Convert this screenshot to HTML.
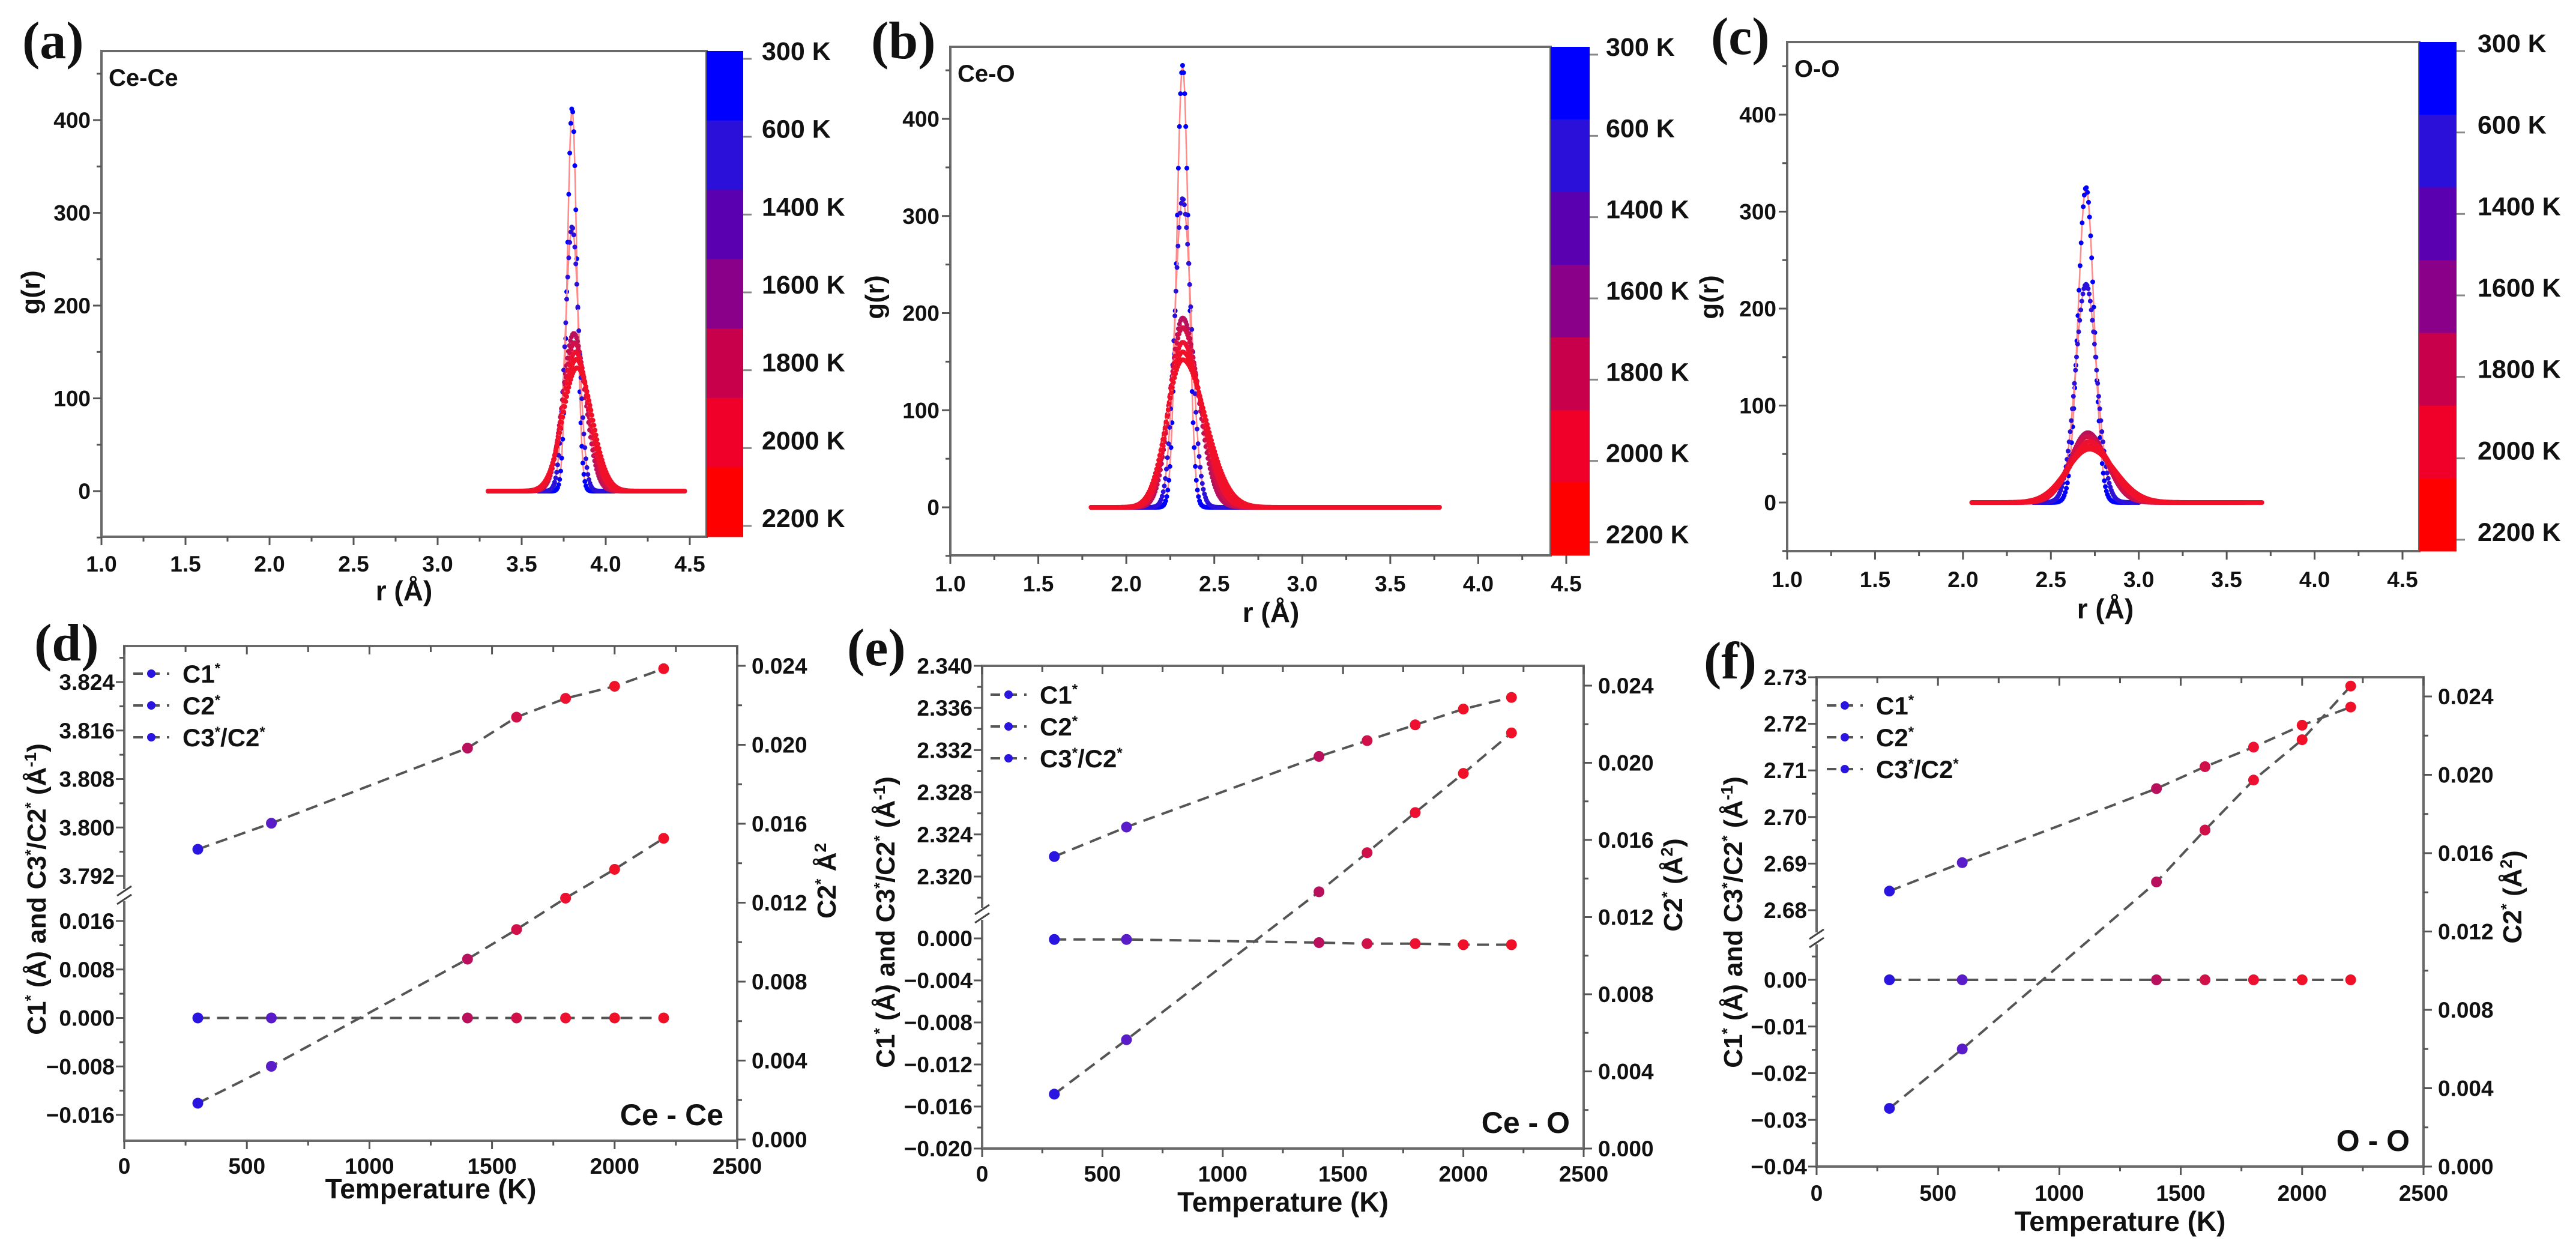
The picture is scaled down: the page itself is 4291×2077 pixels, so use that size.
<!DOCTYPE html>
<html><head><meta charset="utf-8">
<style>
html,body{margin:0;padding:0;background:#fff;}
svg{display:block;font-family:"Liberation Sans",Arial,sans-serif;}
.tk{font-weight:bold;fill:#111;}
</style></head>
<body>
<svg id="fig" xmlns="http://www.w3.org/2000/svg" width="4291" height="2077" viewBox="0 0 4291 2077">
<rect x="0" y="0" width="4291" height="2077" fill="#fff"/>
</svg>
<script>
// ---------- data ----------
const TEMPS = [300, 600, 1400, 1600, 1800, 2000, 2200];
const CB_LABELS = ['300 K', '600 K', '1400 K', '1600 K', '1800 K', '2000 K', '2200 K'];
const CB_COLORS = ['#0000ff', '#2a10d8', '#5a00b0', '#8a0088', '#c8004c', '#f00028', '#ff0000'];
const PT_COLORS = ['#2a14e0', '#5a1cc8', '#b8105c', '#d01048', '#ee1030', '#f01028', '#f01028'];

// g(r) peak parameters
const A_peak = [413, 285, 170, 160, 150, 142, 133];
const A_center = [3.80, 3.80, 3.81, 3.815, 3.82, 3.825, 3.83];
const A_sigma = [0.028, 0.04, 0.065, 0.07, 0.075, 0.08, 0.085];
const A_skew = [1, 1, 1.05, 1.05, 1.05, 1.05, 1.05];
const A_lo = [3.6, 3.6, 3.4, 3.35, 3.3, 3.3, 3.3];
const A_hi = [4.0, 4.05, 4.3, 4.35, 4.4, 4.45, 4.47];

const B_peak = [455, 318, 195, 185, 170, 160, 152];
const B_center = [2.32, 2.32, 2.32, 2.32, 2.32, 2.32, 2.32];
const B_sigma = [0.033, 0.045, 0.07, 0.075, 0.08, 0.085, 0.09];
const B_skew = [1.0, 1.1, 1.25, 1.3, 1.35, 1.4, 1.45];
const B_lo = [2.05, 2.0, 1.9, 1.85, 1.8, 1.8, 1.8];
const B_hi = [2.8, 3.0, 3.3, 3.4, 3.5, 3.6, 3.78];

const C_peak = [325, 225, 72, 68, 63, 58, 55];
const C_center = [2.70, 2.70, 2.71, 2.71, 2.72, 2.72, 2.72];
const C_sigma = [0.045, 0.06, 0.10, 0.105, 0.11, 0.12, 0.13];
const C_skew = [1, 1, 1.05, 1.05, 1.1, 1.1, 1.1];
const C_lo = [2.45, 2.4, 2.2, 2.15, 2.1, 2.05, 2.05];
const C_hi = [2.95, 3.0, 3.3, 3.4, 3.5, 3.6, 3.7];

// cumulant data vs temperature
const D_C1 = [3.7964, 3.8007, 3.8131, 3.8182, 3.8213, 3.8233, 3.8262];
const D_C2 = [0.00184, 0.00371, 0.00914, 0.01064, 0.01223, 0.01369, 0.01526];
const D_C32 = [0, 0, 0, 0, 0, 0, 0];
const E_C1 = [2.3219, 2.3247, 2.3314, 2.3329, 2.3344, 2.3359, 2.3370];
const E_C2 = [0.00282, 0.00564, 0.01331, 0.01534, 0.01742, 0.01945, 0.02155];
const E_C32 = [-0.0001, -0.0001, -0.0004, -0.0005, -0.0005, -0.0006, -0.0006];
const F_C1 = [2.6841, 2.6902, 2.7061, 2.7108, 2.7150, 2.7197, 2.7236];
const F_C2 = [0.00297, 0.0060, 0.01453, 0.01718, 0.01973, 0.02179, 0.02453];
const F_C32 = [0, 0, 0, 0, 0, 0, 0];

const GR_XTICKS = [1.0, 1.5, 2.0, 2.5, 3.0, 3.5, 4.0, 4.5];
const GR_YTICKS = [0, 100, 200, 300, 400];
const T_XTICKS = [0, 500, 1000, 1500, 2000, 2500];
const RT_TICKS = [0, 0.004, 0.008, 0.012, 0.016, 0.020, 0.024];
const D_UP = [3.792, 3.800, 3.808, 3.816, 3.824];
const D_LOW = [-0.016, -0.008, 0.000, 0.008, 0.016];
const E_UP = [2.320, 2.324, 2.328, 2.332, 2.336, 2.340];
const E_LOW = [-0.020, -0.016, -0.012, -0.008, -0.004, 0.000];
const F_UP = [2.68, 2.69, 2.70, 2.71, 2.72, 2.73];
const F_LOW = [-0.04, -0.03, -0.02, -0.01, 0.00];

// ---------- helpers ----------
const NS = 'http://www.w3.org/2000/svg';
const svg = document.getElementById('fig');
function mk(tag, attrs, parent) {
  const e = document.createElementNS(NS, tag);
  for (const k in attrs) e.setAttribute(k, attrs[k]);
  parent.appendChild(e);
  return e;
}
function tx(s, x, y, size, parent, anchor) {
  const t = mk('text', {x: x, y: y, 'font-size': size, 'text-anchor': anchor || 'start', 'class': 'tk'}, parent);
  t.textContent = s;
  return t;
}
function sup(t, s, size, dy) {
  const a = mk('tspan', {dy: -dy, 'font-size': size}, t);
  a.textContent = s;
  const b = mk('tspan', {dy: dy}, t);
  b.textContent = '\u200b';
  return a;
}
function plain(t, s) {
  const a = mk('tspan', {}, t);
  a.textContent = s;
  return a;
}

// ---------- g(r) panels ----------
function drawGR(cfg, peak, center, sigma, skew, lo, hi) {
  const g = mk('g', {}, svg);
  
  
  const X = v => cfg.x1 + (v - 1) * (cfg.x45 - cfg.x1) / 3.5;
  const Y = v => cfg.y0 + (cfg.y400 - cfg.y0) * v / 400;
  const L = cfg.x1;
  const frame = mk('rect', {x: L, y: cfg.top, width: cfg.cbL - L, height: cfg.bot - cfg.top, fill: 'none', stroke: '#6a6a6a', 'stroke-width': 4}, g);
  
  
  // y ticks
  for (let v = -50; v <= 450; v += 50) {
    const maj = v % 100 === 0;
    const tk = mk('line', {x1: L, x2: L - (maj ? 14 : 8), y1: Y(v), y2: Y(v), stroke: '#555', 'stroke-width': 3}, g);
    
    
  }
  GR_YTICKS.forEach(v => {
    const t = tx(String(v), L - 18, Y(v) + 13, 37, g, 'end');
    
    
  });
  // x ticks
  for (let v = 1.0; v <= 4.51; v += 0.25) {
    const maj = Math.abs(v * 2 - Math.round(v * 2)) < 1e-6;
    const tk = mk('line', {x1: X(v), x2: X(v), y1: cfg.bot, y2: cfg.bot + (maj ? 14 : 8), stroke: '#555', 'stroke-width': 3}, g);
    
    
  }
  GR_XTICKS.forEach(v => {
    const t = tx(v.toFixed(1), X(v), cfg.xlabY, 37, g, 'middle');
    
    
  });
  const xt = tx('r (\u00c5)', cfg.xtitleX, cfg.xtitleY, 46, g, 'middle');
  
  
  const yt = tx('g(r)', 0, 0, 44, g, 'middle');
  yt.setAttribute('transform', 'translate(' + cfg.ytitleX + ',' + cfg.ytitleY + ') rotate(-90)');
  
  
  const inset = tx(cfg.pair, L + 12, cfg.top + 58, 40, g, 'start');
  
  
  const let_ = mk('text', {x: cfg.letX, y: cfg.letY, 'font-size': 88, 'font-weight': 'bold', 'font-family': '"Liberation Serif",serif', fill: '#111'}, g);
  let_.textContent = cfg.letter;
  
  
  // curves
  for (let i = 0; i < TEMPS.length; i++) {
    let pts = [], dots = '';
    for (let r = lo[i]; r <= hi[i] + 1e-9; r += 0.006) {
      const s = r > center[i] ? sigma[i] * skew[i] : sigma[i];
      const v = peak[i] * Math.exp(-((r - center[i]) ** 2) / (2 * s * s));
      const px = X(r).toFixed(1), py = Y(v).toFixed(1);
      pts.push(px + ',' + py);
      dots += 'M' + (X(r) - 4).toFixed(1) + ' ' + py + 'a4 4 0 1 0 8 0a4 4 0 1 0 -8 0';
    }
    const ln = mk('polyline', {points: pts.join(' '), fill: 'none', stroke: '#ff8a8a', 'stroke-width': 2.5}, g);
    
    
    const dp = mk('path', {d: dots, fill: i < 2 ? CB_COLORS[i] : PT_COLORS[i]}, g);
    
    
  }
  // colorbar
  const bh = (cfg.bot - cfg.top) / 7;
  for (let i = 0; i < 7; i++) {
    const b = mk('rect', {x: cfg.cbL, y: cfg.top + i * bh, width: cfg.cbR - cfg.cbL, height: bh + 0.5, fill: CB_COLORS[i]}, g);
    
    
    const ly = cfg.lbl0 + i * (cfg.lbl1 - cfg.lbl0) / 6;
    const tk = mk('line', {x1: cfg.cbR, x2: cfg.cbR + 14, y1: ly + 14, y2: ly + 14, stroke: '#888', 'stroke-width': 3}, g);
    
    
    const t = tx(CB_LABELS[i], cfg.lblX, ly + 16, 43, g, 'start');
    
    
  }
}

drawGR({name: 'panel-a-ce-ce-rdf', pair: 'Ce-Ce', letter: '(a)', letX: 37, letY: 97,
  x1: 169, x45: 1149, top: 85, bot: 894, y0: 818, y400: 200, cbL: 1177, cbR: 1238,
  lblX: 1269, lbl0: 84, lbl1: 862, xlabY: 952, xtitleX: 673, xtitleY: 1000, ytitleX: 66, ytitleY: 487},
  A_peak, A_center, A_sigma, A_skew, A_lo, A_hi);
drawGR({name: 'panel-b-ce-o-rdf', pair: 'Ce-O', letter: '(b)', letX: 1451, letY: 97,
  x1: 1583, x45: 2609, top: 78, bot: 925, y0: 845, y400: 198, cbL: 2583, cbR: 2648,
  lblX: 2675, lbl0: 77, lbl1: 889, xlabY: 985, xtitleX: 2117, xtitleY: 1036, ytitleX: 1472, ytitleY: 495},
  B_peak, B_center, B_sigma, B_skew, B_lo, B_hi);
drawGR({name: 'panel-c-o-o-rdf', pair: 'O-O', letter: '(c)', letX: 2850, letY: 90,
  x1: 2977, x45: 4002, top: 70, bot: 918, y0: 837, y400: 191, cbL: 4030, cbR: 4092,
  lblX: 4127, lbl0: 71, lbl1: 885, xlabY: 978, xtitleX: 3507, xtitleY: 1030, ytitleX: 2862, ytitleY: 495},
  C_peak, C_center, C_sigma, C_skew, C_lo, C_hi);

// ---------- temperature panels ----------
function lin(a) { return v => a.p1 + (v - a.v1) * (a.p2 - a.p1) / (a.v2 - a.v1); }
function drawT(cfg, c1, c2, c32, upT, lowT, dec) {
  const g = mk('g', {}, svg);
  
  
  const X = v => cfg.L + v * (cfg.R - cfg.L) / 2500;
  const YU = lin(cfg.up), YL = lin(cfg.low), YR = lin(cfg.rt);
  // frame (top, right, bottom, left split)
  const fr = mk('path', {d: 'M' + cfg.L + ' ' + (cfg.brk - 10) + 'V' + cfg.T + 'H' + cfg.R + 'V' + cfg.B + 'H' + cfg.L + 'V' + (cfg.brk + 10), fill: 'none', stroke: '#6a6a6a', 'stroke-width': 4}, g);
  
  
  for (const dy of [-7, 7]) {
    const bk = mk('line', {x1: cfg.L - 12, y1: cfg.brk + dy + 8, x2: cfg.L + 12, y2: cfg.brk + dy - 8, stroke: '#444', 'stroke-width': 3}, g);
    
    
  }
  // x ticks
  for (let v = 0; v <= 2500; v += 250) {
    const maj = v % 500 === 0;
    const tk = mk('line', {x1: X(v), x2: X(v), y1: cfg.B, y2: cfg.B + (maj ? 14 : 8), stroke: '#555', 'stroke-width': 3}, g);
    
    
    const tt = mk('line', {x1: X(v), x2: X(v), y1: cfg.T, y2: cfg.T + (maj ? 14 : 10), stroke: '#555', 'stroke-width': 3}, g);
    
    
  }
  T_XTICKS.forEach(v => {
    const t = tx(String(v), X(v), cfg.xlabY, 37, g, 'middle');
    
    
  });
  const xt = tx('Temperature (K)', (cfg.L + cfg.R) / 2, cfg.xtitleY, 46, g, 'middle');
  
  
  // left ticks
  const tickL = (y, maj) => {
    const tk = mk('line', {x1: cfg.L, x2: cfg.L - (maj ? 14 : 8), y1: y, y2: y, stroke: '#555', 'stroke-width': 3}, g);
    
    
  };
  const upStep = upT[1] - upT[0], lowStep = lowT[1] - lowT[0];
  for (let k = -1; k < upT.length + 1; k++) {
    const v = upT[0] + k * upStep;
    if (YU(v) >= cfg.T - 1 && YU(v) <= cfg.brk - 10 && k >= 0 && k < upT.length) tickL(YU(v), true);
    const m = v + upStep / 2;
    if (YU(m) >= cfg.T + 4 && YU(m) <= cfg.brk - 10) tickL(YU(m), false);
  }
  for (let k = -1; k < lowT.length + 1; k++) {
    const v = lowT[0] + k * lowStep;
    if (k >= 0 && k < lowT.length) tickL(YL(v), true);
    const m = v + lowStep / 2;
    if (YL(m) <= cfg.B - 4 && YL(m) >= cfg.brk + 10) tickL(YL(m), false);
  }
  upT.forEach(v => {
    const t = tx(v.toFixed(dec), cfg.L - 16, YU(v) + 13, 37, g, 'end');
    
    
  });
  lowT.forEach(v => {
    const s = (v < 0 ? '\u2212' + Math.abs(v).toFixed(dec) : Math.abs(v).toFixed(dec));
    const t = tx(s, cfg.L - 16, YL(v) + 13, 37, g, 'end');
    
    
  });
  // right ticks
  for (let v = 0; v <= 0.0261; v += 0.002) {
    const maj = Math.round(v * 1000) % 4 === 0;
    if (YR(v) < cfg.T) continue;
    const tk = mk('line', {x1: cfg.R, x2: cfg.R + (maj ? 14 : 8), y1: YR(v), y2: YR(v), stroke: '#555', 'stroke-width': 3}, g);
    
    
  }
  RT_TICKS.forEach(v => {
    const t = tx(v.toFixed(3), cfg.R + 24, YR(v) + 13, 37, g, 'start');
    
    
  });
  // axis titles
  const yl = tx('', 0, 0, 44, g, 'middle');
  yl.setAttribute('transform', 'translate(' + cfg.ytX + ',' + cfg.ytY + ') rotate(-90)');
  plain(yl, 'C1'); sup(yl, '*', 26, 16); plain(yl, ' (\u00c5) and C3'); sup(yl, '*', 26, 16);
  plain(yl, '/C2'); sup(yl, '*', 26, 16); plain(yl, ' (\u00c5'); sup(yl, '-1', 28, 16); plain(yl, ')');
  
  
  const yr = tx('', 0, 0, 44, g, 'middle');
  yr.setAttribute('transform', 'translate(' + cfg.rtX + ',' + cfg.rtY + ') rotate(-90)');
  plain(yr, 'C2'); sup(yr, '*', 26, 16);
  if (cfg.rtParen) { plain(yr, ' (\u00c5'); sup(yr, '2', 28, 16); plain(yr, ')'); }
  else { plain(yr, ' \u00c5'); sup(yr, '2', 28, 16); }
  
  
  // inset + letter
  const ins = tx(cfg.pair, cfg.R - 23, cfg.B - 26, 50, g, 'end');
  
  
  const lt = mk('text', {x: cfg.letX, y: cfg.letY, 'font-size': 88, 'font-weight': 'bold', 'font-family': '"Liberation Serif",serif', fill: '#111'}, g);
  lt.textContent = cfg.letter;
  
  
  // series
  const series = [[c1, YU, 'series-c1'], [c2, YR, 'series-c2'], [c32, YL, 'series-c3-over-c2']];
  series.forEach(([arr, Y, nm]) => {
    const pts = TEMPS.map((t, i) => X(t).toFixed(1) + ',' + Y(arr[i]).toFixed(1)).join(' ');
    const ln = mk('polyline', {points: pts, fill: 'none', stroke: '#555', 'stroke-width': 4, 'stroke-dasharray': '20 12'}, g);
    
    
    TEMPS.forEach((t, i) => {
      const c = mk('circle', {cx: X(t), cy: Y(arr[i]), r: 9, fill: PT_COLORS[i]}, g);
      
      
    });
  });
  // legend
  const legNames = [['C1', ''], ['C2', ''], ['C3', '/C2']];
  legNames.forEach((n, i) => {
    const y = cfg.legY + i * 53;
    const ll = mk('line', {x1: cfg.legX, x2: cfg.legX + 60, y1: y, y2: y, stroke: '#555', 'stroke-width': 4, 'stroke-dasharray': '16 12'}, g);
    
    
    const lc = mk('circle', {cx: cfg.legX + 30, cy: y, r: 7, fill: '#2a14e0'}, g);
    
    
    const lt2 = tx('', cfg.legX + 82, y + 15, 42, g, 'start');
    plain(lt2, n[0]); sup(lt2, '*', 24, 16);
    if (n[1]) { plain(lt2, n[1]); sup(lt2, '*', 24, 16); }
    
    
  });
}

drawT({name: 'panel-d-ce-ce-cumulants', pair: 'Ce - Ce', letter: '(d)', letX: 57, letY: 1100,
  L: 207, R: 1228, T: 1076, B: 1900, brk: 1491,
  up: {v1: 3.792, p1: 1459, v2: 3.824, p2: 1136}, low: {v1: -0.016, p1: 1857, v2: 0.016, p2: 1534},
  rt: {v1: 0, p1: 1898, v2: 0.024, p2: 1109}, xlabY: 1955, xtitleY: 1996,
  ytX: 76, ytY: 1481, rtX: 1392, rtY: 1467, rtParen: false, legX: 222, legY: 1122},
  D_C1, D_C2, D_C32, D_UP, D_LOW, 3);
drawT({name: 'panel-e-ce-o-cumulants', pair: 'Ce - O', letter: '(e)', letX: 1411, letY: 1108,
  L: 1636, R: 2638, T: 1109, B: 1913, brk: 1522,
  up: {v1: 2.320, p1: 1460, v2: 2.340, p2: 1109}, low: {v1: -0.020, p1: 1913, v2: 0.0, p2: 1563},
  rt: {v1: 0, p1: 1913, v2: 0.024, p2: 1142}, xlabY: 1968, xtitleY: 2018,
  ytX: 1490, ytY: 1536, rtX: 2802, rtY: 1474, rtParen: true, legX: 1650, legY: 1157},
  E_C1, E_C2, E_C32, E_UP, E_LOW, 3);
drawT({name: 'panel-f-o-o-cumulants', pair: 'O - O', letter: '(f)', letX: 2838, letY: 1130,
  L: 3026, R: 4037, T: 1128, B: 1943, brk: 1563,
  up: {v1: 2.68, p1: 1516, v2: 2.73, p2: 1128}, low: {v1: -0.04, p1: 1943, v2: 0.0, p2: 1632},
  rt: {v1: 0, p1: 1943, v2: 0.024, p2: 1160}, xlabY: 2000, xtitleY: 2050,
  ytX: 2902, ytY: 1536, rtX: 4200, rtY: 1494, rtParen: true, legX: 3043, legY: 1175},
  F_C1, F_C2, F_C32, F_UP, F_LOW, 2);
</script>
</body></html>
